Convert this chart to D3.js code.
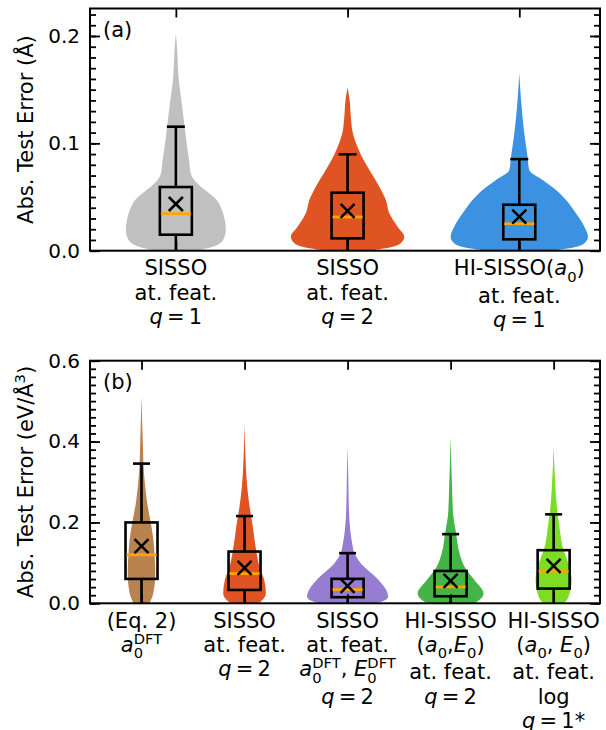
<!DOCTYPE html>
<html>
<head>
<meta charset="utf-8">
<script src="https://cdn.jsdelivr.net/npm/d3@7"></script>
<style>
  body { margin: 0; background: #fff; }
  text { font-family: "DejaVu Sans", sans-serif; fill: #000; white-space: pre; }
</style>
</head>
<body>
<div id="chart"></div>
<script>
// ---- panel (a): lattice constant errors ----
const labelsA = [
  ["SISSO", "at. feat.", "$q = 1$"],
  ["SISSO", "at. feat.", "$q = 2$"],
  ["HI-SISSO($a_0$)", "at. feat.", "$q = 1$"]
];
const colorsA = ["#c0c0c0", "#e05424", "#3d91e1"];
// violin outlines: [error, half width in category units]
const violinA1 = [[0, 0.116], [0.0022, 0.185], [0.0099, 0.275], [0.0192, 0.291], [0.0285, 0.285], [0.0378, 0.268],
  [0.0472, 0.237], [0.0534, 0.194], [0.0596, 0.146], [0.0658, 0.107], [0.072, 0.087], [0.0844, 0.077],
  [0.0937, 0.068], [0.1155, 0.051], [0.1403, 0.032], [0.1559, 0.019], [0.1714, 0.012], [0.187, 0.008], [0.2024, 0]];
const violinA2 = [[0, 0.126], [0.0022, 0.221], [0.0069, 0.309], [0.013, 0.330], [0.0224, 0.291], [0.0348, 0.243],
  [0.0472, 0.223], [0.0596, 0.185], [0.0782, 0.116], [0.0897, 0.077], [0.1093, 0.031], [0.1248, 0.019],
  [0.1403, 0.012], [0.152, 0]];
const violinA3 = [[0, 0.192], [0.0022, 0.291], [0.0069, 0.379], [0.013, 0.400], [0.0224, 0.379], [0.0348, 0.330],
  [0.0472, 0.272], [0.0565, 0.214], [0.0658, 0.136], [0.0752, 0.058], [0.0876, 0.048], [0.1093, 0.029],
  [0.1403, 0.010], [0.165, 0]];
const q1A = [0.0149, 0.0115, 0.0106];
const medianA = [0.0345, 0.0314, 0.0251];
const q3A = [0.0593, 0.054, 0.0428];
const meanA = [0.0435, 0.037, 0.0317];
const whiskerA = [0.1155, 0.0898, 0.0853];

// ---- panel (b) ----
const labelsB = [
  ["(Eq. 2)", "$a_0^{DFT}$"],
  ["SISSO", "at. feat.", "$q = 2$"],
  ["SISSO", "at. feat.", "$a_0^{DFT}$, $E_0^{DFT}$", "$q = 2$"],
  ["HI-SISSO", "($a_0$,$E_0$)", "at. feat.", "$q = 2$"],
  ["HI-SISSO", "($a_0$, $E_0$)", "at. feat.", "log", "$q = 1$*"]
];
const colorsB = ["#b9834f", "#e05424", "#967dd2", "#45b446", "#7ddd23"];
const violinB1 = [[0, 0.078], [0.024, 0.114], [0.0736, 0.134], [0.123, 0.126], [0.156, 0.116], [0.189, 0.097],
  [0.222, 0.073], [0.255, 0.051], [0.288, 0.036], [0.322, 0.024], [0.404, 0.012], [0.512, 0]];
const violinB2 = [[0, 0.126], [0.004, 0.155], [0.024, 0.207], [0.057, 0.192], [0.09, 0.146], [0.14, 0.107],
  [0.189, 0.081], [0.239, 0.049], [0.288, 0.026], [0.338, 0.013], [0.4456, 0]];
const violinB3 = [[0, 0.272], [0.003, 0.320], [0.016, 0.394], [0.032, 0.376], [0.065, 0.272], [0.098, 0.131],
  [0.123, 0.068], [0.148, 0.045], [0.181, 0.026], [0.239, 0.012], [0.30, 0.008], [0.3875, 0]];
const violinB4 = [[0, 0.223], [0.003, 0.252], [0.024, 0.320], [0.057, 0.233], [0.09, 0.136], [0.123, 0.087],
  [0.173, 0.053], [0.222, 0.024], [0.28, 0.015], [0.412, 0]];
const violinB5 = [[0, 0.097], [0.003, 0.114], [0.024, 0.155], [0.057, 0.175], [0.09, 0.153], [0.14, 0.087],
  [0.189, 0.056], [0.239, 0.031], [0.28, 0.019], [0.3875, 0]];
const q1B = [0.0603, 0.033, 0.015, 0.0174, 0.0364];
const medianB = [0.12, 0.0736, 0.034, 0.0405, 0.0793];
const q3B = [0.2, 0.128, 0.0605, 0.08, 0.1314];
const meanB = [0.1413, 0.0876, 0.043, 0.0553, 0.0925];
const whiskerB = [0.3455, 0.2157, 0.124, 0.171, 0.22];

const W = 606, H = 730;
const FS = 21, TICK_FS = 20;

const svg = d3.select("#chart").append("svg")
  .attr("width", W).attr("height", H);

// tiny mathtext: $...$ gives italic letters, _x / ^{..} sub/superscripts
function parseMath(str) {
  const out = [];
  let math = false, i = 0;
  while (i < str.length) {
    let c = str[i];
    if (c === "$") { math = !math; i++; continue; }
    if (math && (c === "_" || c === "^")) {
      let g;
      if (str[i + 1] === "{") {
        const k = str.indexOf("}", i + 1);
        g = str.slice(i + 2, k); i = k + 1;
      } else { g = str[i + 1]; i += 2; }
      const lvl = c === "_" ? -1 : 1;
      const prev = out[out.length - 1];
      out.push({ t: g, it: false, lvl, stack: !!(prev && prev.lvl === -lvl) });
      continue;
    }
    if (math && c === " ") c = "\u2009"; // tighter spacing in math mode
    const it = math && /[A-Za-z]/.test(c);
    const prev = out[out.length - 1];
    if (prev && prev.lvl === 0 && prev.it === it) prev.t += c;
    else out.push({ t: c, it, lvl: 0 });
    i++;
  }
  return out;
}

function richText(parent, str, fs, transform) {
  const grp = parent.append("g").attr("transform", transform);
  const placed = [];
  let cur = 0, lastStart = 0, lastW = 0;
  parseMath(str).forEach(r => {
    const t = grp.append("text")
      .attr("font-size", r.lvl ? fs * 0.7 : fs)
      .attr("font-style", r.it ? "italic" : "normal")
      .text(r.t);
    const w = t.node().getComputedTextLength();
    let x0;
    if (r.stack) { x0 = lastStart; cur = lastStart + Math.max(lastW, w); }
    else { x0 = cur; cur += w; }
    const dy = r.lvl === -1 ? fs * 0.3 : r.lvl === 1 ? -fs * 0.4 : 0;
    placed.push({ t, x0, dy });
    lastStart = x0; lastW = w;
  });
  placed.forEach(p => p.t.attr("x", p.x0 - cur / 2).attr("y", p.dy));
  return grp;
}

function drawPanel(cfg) {
  const left = 90, right = 600;
  const g = svg.append("g");
  const x = d3.scaleLinear().domain([0.5, cfg.xMax]).range([left, right]);
  const y = d3.scaleLinear().domain([0, cfg.yMax]).range([cfg.bottom, cfg.top]);
  const unit = x(1) - x(0);
  const n = cfg.labels.length;

  // violins
  g.selectAll("path.violin")
    .data(cfg.violins)
    .join("path")
    .attr("class", "violin")
    .attr("fill", (d, i) => cfg.colors[i])
    .attr("d", (d, i) => d3.area()
      .curve(d3.curveMonotoneY)
      .y(p => y(p[0]))
      .x0(p => x(i + 1) - p[1] * unit)
      .x1(p => x(i + 1) + p[1] * unit)(d.slice().sort((a, b) => b[0] - a[0])));

  // box plots
  const boxHalf = 16;
  const idx = d3.range(n);
  const bx = g.selectAll("g.box").data(idx).join("g").attr("class", "box");
  bx.append("line")
    .attr("x1", i => x(i + 1)).attr("x2", i => x(i + 1))
    .attr("y1", y(0)).attr("y2", i => y(cfg.q1[i]))
    .attr("stroke", "#000").attr("stroke-width", 2.6);
  bx.append("line")
    .attr("x1", i => x(i + 1)).attr("x2", i => x(i + 1))
    .attr("y1", i => y(cfg.q3[i])).attr("y2", i => y(cfg.whisker[i]))
    .attr("stroke", "#000").attr("stroke-width", 2.6);
  bx.append("line")
    .attr("x1", i => x(i + 1) - cfg.capHalf).attr("x2", i => x(i + 1) + cfg.capHalf)
    .attr("y1", i => y(cfg.whisker[i])).attr("y2", i => y(cfg.whisker[i]))
    .attr("stroke", "#000").attr("stroke-width", 2.6);
  bx.append("rect")
    .attr("x", i => x(i + 1) - boxHalf).attr("width", boxHalf * 2)
    .attr("y", i => y(cfg.q3[i])).attr("height", i => y(cfg.q1[i]) - y(cfg.q3[i]))
    .attr("fill", "none").attr("stroke", "#000").attr("stroke-width", 2.6);
  bx.append("line")
    .attr("x1", i => x(i + 1) - boxHalf + 1).attr("x2", i => x(i + 1) + boxHalf - 1)
    .attr("y1", i => y(cfg.median[i])).attr("y2", i => y(cfg.median[i]))
    .attr("stroke", "#ffa500").attr("stroke-width", 2.8);
  const m = 7;
  bx.append("path")
    .attr("d", i => {
      const cx = x(i + 1), cy = y(cfg.mean[i]);
      return `M${cx - m},${cy - m}L${cx + m},${cy + m}M${cx - m},${cy + m}L${cx + m},${cy - m}`;
    })
    .attr("stroke", "#000").attr("stroke-width", 2.5).attr("fill", "none");

  // axes, ticks pointing inwards
  const majors = d3.range(0, cfg.yMax + 1e-9, cfg.yMajor);
  const minors = d3.range(0, cfg.yMax + 1e-9, cfg.yMinor);
  const styleAxis = a => {
    a.select(".domain").remove();
    a.selectAll("line").attr("stroke-width", 1.8);
    a.selectAll("text").attr("font-size", TICK_FS).attr("font-family", "DejaVu Sans");
  };
  g.append("g").attr("transform", `translate(${left},0)`)
    .call(d3.axisLeft(y).tickValues(minors).tickFormat("").tickSizeInner(-6).tickSizeOuter(0))
    .call(styleAxis);
  g.append("g").attr("transform", `translate(${left},0)`)
    .call(d3.axisLeft(y).tickValues(majors).tickFormat(d3.format(".1f"))
      .tickSizeInner(-10).tickSizeOuter(0).tickPadding(10))
    .call(styleAxis);
  g.append("g").attr("transform", `translate(${right},0)`)
    .call(d3.axisRight(y).tickValues(minors).tickFormat("").tickSizeInner(-6).tickSizeOuter(0))
    .call(styleAxis);
  g.append("g").attr("transform", `translate(${right},0)`)
    .call(d3.axisRight(y).tickValues(majors).tickFormat("").tickSizeInner(-10).tickSizeOuter(0))
    .call(styleAxis);
  g.append("g").attr("transform", `translate(0,${cfg.top})`)
    .call(d3.axisTop(x).tickValues(d3.range(1, n + 1)).tickFormat("").tickSizeInner(-9).tickSizeOuter(0))
    .call(styleAxis);
  g.append("g").attr("transform", `translate(0,${cfg.bottom})`)
    .call(d3.axisBottom(x).tickValues(d3.range(1, n + 1)).tickFormat("").tickSizeInner(-9).tickSizeOuter(0))
    .call(styleAxis);

  g.append("rect")
    .attr("x", left).attr("y", cfg.top)
    .attr("width", right - left).attr("height", cfg.bottom - cfg.top)
    .attr("fill", "none").attr("stroke", "#000").attr("stroke-width", 2);

  // category labels (multi-line, with sub/superscripts)
  cfg.labels.forEach((lines, i) => {
    let base = cfg.bottom + 24.5;
    lines.forEach((ln, k) => {
      if (k > 0) base += 24.3 + (lines[k - 1].includes("_") ? 3 : 0);
      richText(g, ln, FS, `translate(${x(i + 1)},${base})`);
    });
  });

  // panel tag and y label
  g.append("text").attr("x", 103).attr("y", cfg.top + 28)
    .attr("font-size", FS).text(cfg.tag);
  richText(g, cfg.ylabel, FS, `translate(33,${(cfg.top + cfg.bottom) / 2}) rotate(-90)`);
}

drawPanel({
  top: 8.5, bottom: 250.7, yMax: 0.2256, yMajor: 0.1, yMinor: 0.01, xMax: 3.47,
  labels: labelsA, colors: colorsA, violins: [violinA1, violinA2, violinA3],
  q1: q1A, median: medianA, q3: q3A, mean: meanA, whisker: whiskerA,
  capHalf: 9, tag: "(a)", ylabel: "Abs. Test Error (Å)"
});

drawPanel({
  top: 360.7, bottom: 603.3, yMax: 0.6, yMajor: 0.2, yMinor: 0.02, xMax: 5.45,
  labels: labelsB, colors: colorsB, violins: [violinB1, violinB2, violinB3, violinB4, violinB5],
  q1: q1B, median: medianB, q3: q3B, mean: meanB, whisker: whiskerB,
  capHalf: 8.5, tag: "(b)", ylabel: "Abs. Test Error (eV/Å$^3$)"
});
</script>
</body>
</html>
